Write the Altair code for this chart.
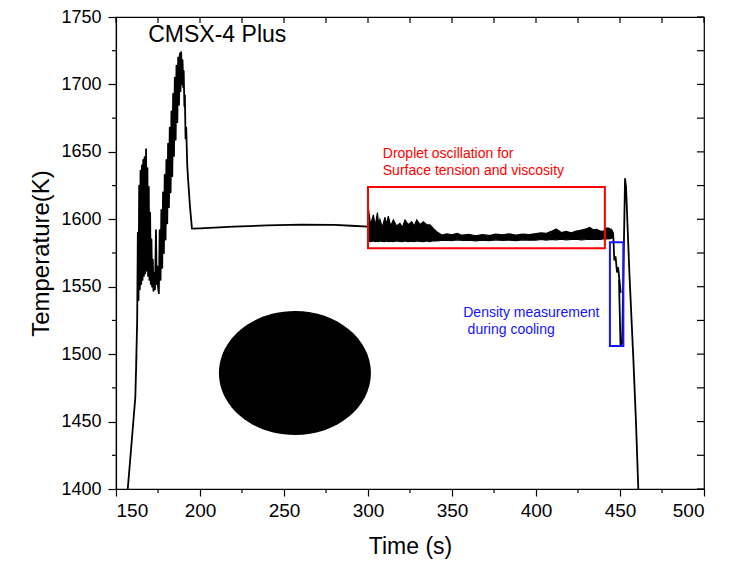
import altair as alt
import pandas as pd

FONT = "Liberation Sans, Arial, sans-serif"

# ---- main temperature trace (time s, temperature K), in drawing order ----
line_t = [157.0, 159.0, 161.5, 162.2, 162.0, 162.6, 163.0, 163.4, 163.8, 164.2,
          164.6, 165.0, 165.4, 165.8, 166.2, 166.6, 167.0, 167.4, 167.9, 168.3,
          168.7, 169.1, 169.5, 169.9, 170.3, 170.7, 171.1, 171.5, 171.9, 172.3,
          172.8, 173.2, 173.8, 174.2, 174.6, 175.0, 175.5, 176.0, 176.5, 177.0,
          177.5, 178.0, 178.5, 179.0, 179.5, 180.0, 180.5, 181.0, 181.5, 182.0,
          182.5, 183.0, 183.5, 184.0, 184.5, 185.0, 185.5, 186.0, 186.5, 187.0,
          187.5, 188.0, 188.4, 188.8, 189.2, 189.6, 190.0, 190.3, 190.7, 191.0,
          191.4, 191.8, 192.4, 193.0, 194.0, 195.2, 200.0, 220.0, 240.0, 260.0,
          280.0, 290.0, 300.0, 300.5, 445.5, 446.0, 446.6, 447.4, 448.2, 448.9,
          450.4, 449.4, 450.3, 451.3, 453.0, 453.6, 454.4, 455.6, 457.0, 458.0,
          459.5, 460.9]
line_T = [1400, 1430, 1468, 1500, 1492, 1525, 1590, 1540, 1625, 1548,
          1636, 1552, 1640, 1555, 1644, 1558, 1646, 1560, 1652, 1562,
          1638, 1558, 1624, 1555, 1605, 1552, 1585, 1550, 1570, 1547,
          1560, 1548, 1592, 1552, 1565, 1550, 1545, 1592, 1555, 1607,
          1564, 1620, 1575, 1633, 1585, 1644, 1597, 1656, 1609, 1668,
          1620, 1680, 1632, 1693, 1647, 1705, 1659, 1714, 1672, 1720,
          1685, 1723, 1695, 1724, 1700, 1718, 1698, 1710, 1684, 1692,
          1660, 1668, 1640, 1628, 1610, 1593, 1593.3, 1594.5, 1595.5, 1596,
          1595.8, 1595.2, 1594.5, 1586.5, 1587, 1588, 1570, 1572, 1561, 1564,
          1546, 1555, 1507, 1508, 1630, 1624, 1598, 1560, 1522, 1495,
          1450, 1400]

# ---- dense oscillation band (droplet oscillation) : upper / lower envelope ----
band_t = [300.0, 300.3, 301.5, 303.2, 304.3, 305.6, 306.3, 307.1, 308.5, 310.1,
          311.0, 312.1, 313.5, 315.1, 317.0, 319.0, 320.5, 322.0, 324.0, 326.0,
          327.5, 329.0, 331.0, 332.9, 335.0, 336.9, 339.0, 340.9, 343.9, 347.0,
          350.0, 353.0, 356.0, 360.0, 364.0, 368.0, 372.0, 376.0, 380.0, 384.0,
          388.0, 392.0, 396.0, 400.0, 403.0, 406.0, 409.0, 412.0, 415.0, 418.0,
          421.0, 424.0, 427.0, 430.0, 432.0, 434.0, 436.0, 438.0, 440.0, 441.5,
          443.0, 445.0, 446.0]
band_hi = [1594, 1607.4, 1596, 1603.2, 1595, 1604.9, 1596, 1600, 1594, 1601.5,
           1596, 1602.4, 1595, 1599.5, 1595, 1597.0, 1594, 1599.5, 1596, 1598.2,
           1595, 1599.5, 1596, 1598.2, 1596, 1595.8, 1593, 1590.8, 1588.3, 1589.2,
           1588.5, 1589.5, 1588.2, 1588.8, 1587.8, 1588.6, 1588.0, 1589.0, 1588.4, 1589.2,
           1588.2, 1589.0, 1588.6, 1589.4, 1590.0, 1589.5, 1591.0, 1592.8, 1590.2, 1591.0,
           1590.0, 1591.2, 1592.0, 1593.0, 1594.0, 1592.2, 1592.6, 1591.5, 1590.8, 1593.5,
           1593.5, 1592.5, 1590.0]
band_lo = [1590, 1584, 1583.5, 1584, 1583.5, 1583.8, 1583.4, 1584, 1583.6, 1583.4,
           1584, 1583.5, 1583.8, 1583.4, 1584, 1583.6, 1583.5, 1584, 1583.4, 1583.8,
           1583.5, 1584, 1583.6, 1583.4, 1584, 1583.5, 1584.2, 1584.0, 1584.4, 1584.6,
           1584.2, 1584.8, 1584.4, 1584.6, 1584.0, 1584.5, 1584.2, 1584.8, 1584.4, 1584.6,
           1584.2, 1584.8, 1584.5, 1584.6, 1585.0, 1584.6, 1585.0, 1584.8, 1585.2, 1584.8,
           1585.0, 1585.2, 1584.8, 1585.0, 1585.2, 1585.0, 1585.2, 1585.0, 1585.4, 1585.5,
           1585.5, 1585.8, 1587.0]

# ---- annotation boxes ----
box_x1 = [300, 444]
box_x2 = [441, 452]
box_y1 = [1578.5, 1506]
box_y2 = [1624, 1583]
box_color = ["#ff0000", "#1414ff"]

# ---- annotation texts ----
txt_x = [308.8, 308.8, 356.7, 359.3]
txt_y = [1645.4, 1632.8, 1527.8, 1514.9]
txt_s = ["Droplet oscillation for", "Surface tension and viscosity",
         "Density measurement", "during cooling"]
txt_c = ["#ff0000", "#ff0000", "#1414ff", "#1414ff"]

title_x = [169.2]
title_y = [1731.2]
title_s = ["CMSX-4 Plus"]

# droplet image (black ellipse) centre
drop_x = [256.5]
drop_y = [1486.0]

# ---- ticks ----
x_major = [150, 200, 250, 300, 350, 400, 450, 500]
x_minor = [175, 225, 275, 325, 375, 425, 475]
y_major = [1400, 1450, 1500, 1550, 1600, 1650, 1700, 1750]
y_minor = [1425, 1475, 1525, 1575, 1625, 1675, 1725]

W, H = 588, 472

df_line = pd.DataFrame({"t": line_t, "T": line_T, "i": list(range(len(line_t)))})
df_band = pd.DataFrame({"t": band_t, "hi": band_hi, "lo": band_lo})
df_box = pd.DataFrame({"x1": box_x1, "x2": box_x2, "y1": box_y1, "y2": box_y2, "c": box_color})
df_txt = pd.DataFrame({"x": txt_x, "y": txt_y, "s": txt_s, "c": txt_c})
df_title = pd.DataFrame({"x": title_x, "y": title_y, "s": title_s})
df_drop = pd.DataFrame({"x": drop_x, "y": drop_y})
df_xmin = pd.DataFrame({"v": x_minor})
df_ymin = pd.DataFrame({"v": y_minor})
df_xall = pd.DataFrame({"v": x_major + x_minor})
df_yall = pd.DataFrame({"v": y_major + y_minor})

xs = alt.Scale(domain=[150, 500], nice=False, zero=False)
ys = alt.Scale(domain=[1400, 1750], nice=False, zero=False)

xaxis = alt.Axis(values=x_major, title="Time (s)", grid=False, tickSize=7,
                 tickColor="black", domainColor="black", tickWidth=1.2, domainWidth=1.2,
                 labelFontSize=19, titleFontSize=23, titleFontWeight="normal",
                 labelFont=FONT, titleFont=FONT, labelColor="black", titleColor="black",
                 labelPadding=5, titlePadding=15, format="d")
yaxis = alt.Axis(values=y_major, title="Temperature(K)", grid=False, tickSize=8,
                 tickColor="black", domainColor="black", tickWidth=1.2, domainWidth=1.2,
                 labelFontSize=18, titleFontSize=24, titleFontWeight="normal",
                 labelFont=FONT, titleFont=FONT, labelColor="black", titleColor="black",
                 labelPadding=7, titlePadding=7, format="d")


def X(field):
    return alt.X(field, type="quantitative", scale=xs, axis=xaxis)


def Y(field):
    return alt.Y(field, type="quantitative", scale=ys, axis=yaxis)


line = alt.Chart(df_line).mark_line(color="black", strokeWidth=1.8, clip=True,
                                    strokeJoin="round").encode(
    x=X("t"), y=Y("T"), order="i:Q",
)

band = alt.Chart(df_band).mark_area(color="black", stroke="black", strokeWidth=1.2).encode(
    x=X("t"), y=Y("hi"), y2="lo:Q",
)

drop = alt.Chart(df_drop).mark_point(
    shape="M -1 0 A 1 0.816 0 1 1 1 0 A 1 0.816 0 1 1 -1 0 Z",
    filled=True, color="black", opacity=1, size=23104).encode(
    x=X("x"), y=Y("y"),
)

boxes = alt.Chart(df_box).mark_rect(fillOpacity=0, strokeWidth=2).encode(
    x=X("x1"), x2="x2:Q", y=Y("y1"), y2="y2:Q",
    stroke=alt.Stroke("c:N", scale=None),
)

texts = alt.Chart(df_txt).mark_text(align="left", baseline="alphabetic",
                                    fontSize=14, font=FONT).encode(
    x=X("x"), y=Y("y"), text="s:N",
    color=alt.Color("c:N", scale=None),
)

title = alt.Chart(df_title).mark_text(align="left", baseline="alphabetic",
                                      fontSize=23, font=FONT, color="black").encode(
    x=X("x"), y=Y("y"), text="s:N",
)

# minor ticks outward on bottom / left
xmin_t = alt.Chart(df_xmin).mark_rule(color="black", strokeWidth=1.2).encode(
    x=X("v"), y=alt.value(H), y2=alt.value(H + 4))
ymin_t = alt.Chart(df_ymin).mark_rule(color="black", strokeWidth=1.2).encode(
    y=Y("v"), x=alt.value(-4), x2=alt.value(0))
# mirrored inward ticks on top / right
top_t = alt.Chart(df_xall).mark_rule(color="black", strokeWidth=1.2).encode(
    x=X("v"), y=alt.value(0), y2=alt.value(6))
right_t = alt.Chart(df_yall).mark_rule(color="black", strokeWidth=1.2).encode(
    y=Y("v"), x=alt.value(W - 7), x2=alt.value(W))

chart = alt.layer(line, band, drop, boxes, texts, title, xmin_t, ymin_t, top_t, right_t).properties(
    width=W, height=H,
    padding={"left": 108, "top": 9, "right": 27, "bottom": 76},
    autosize="none",
    background="white",
).configure_view(stroke="black", strokeWidth=1.2)

chart.save("out.html", embed_options={"renderer": "svg", "actions": False})
